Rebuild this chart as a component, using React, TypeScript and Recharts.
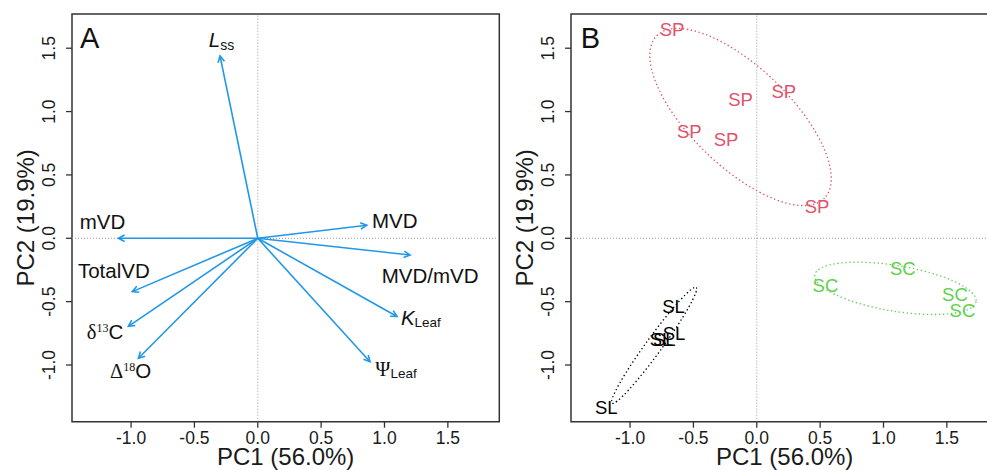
import React from "react";
import {
  ScatterChart,
  Scatter,
  XAxis,
  YAxis,
  ReferenceLine,
  ReferenceArea,
} from "recharts";

const xTicks = [-1, -0.5, 0, 0.5, 1, 1.5];
const yTicks = [-1, -0.5, 0, 0.5, 1, 1.5];
const xDomain = [-1.466, 1.906];
const yDomain = [-1.4475, 1.77];

// panel A: loading arrows (tips) and where their labels sit
const varNames = ["Lss", "mVD", "MVD", "MVD/mVD", "TotalVD", "δ13C", "Δ18O", "KLeaf", "ΨLeaf"];
const tipX = [-0.298, -1.1, 0.86, 1.202, -0.99, -1.021, -0.942, 1.099, 0.886];
const tipY = [1.439, 0.0, 0.103, -0.132, -0.421, -0.695, -0.947, -0.617, -0.974];
const labelX = [-0.286, -1.225, 1.081, 1.36, -1.136, -1.205, -1.004, 1.287, 1.091];
const labelY = [1.565, 0.127, 0.138, -0.296, -0.256, -0.737, -1.042, -0.629, -1.026];

// panel B: site scores
const spX = [-0.668, 0.214, -0.128, -0.532, -0.243, 0.476];
const spY = [1.644, 1.157, 1.092, 0.842, 0.782, 0.247];
const scX = [0.542, 1.152, 1.564, 1.623];
const scY = [-0.371, -0.241, -0.444, -0.568];
const slX = [-0.657, -0.653, -0.756, -0.73, -1.187];
const slY = [-0.54, -0.751, -0.797, -0.8, -1.334];

// group ellipses: centre, semi-axes, rotation (deg)
const ellGroups = ["SP", "SC", "SL"];
const ellCX = [-0.128, 1.094, -0.81];
const ellCY = [0.957, -0.395, -0.845];
const ellA = [0.921, 0.645, 0.565];
const ellB = [0.391, 0.18, 0.063];
const ellAngle = [44, 9.4, -54];

const FONT = '"Liberation Sans", Arial, Helvetica, sans-serif';
const SERIF = '"Liberation Serif", "Times New Roman", serif';
const BLUE = "#2297E6";
const groupColors: Record<string, string> = { SP: "#DF536B", SC: "#61D04F", SL: "#000000" };

const YTick = (props: any) => {
  const { x, y, payload } = props;
  const bx = x - 9;
  return (
    <text
      x={bx}
      y={y}
      transform={`rotate(-90 ${bx} ${y})`}
      textAnchor="middle"
      fontSize={17.5}
      fill="#1a1a1a"
      fontFamily={FONT}
    >
      {Number(payload.value).toFixed(1)}
    </text>
  );
};

const ArrowShape = (props: any) => {
  const { x1, y1, x2, y2 } = props;
  const ang = Math.atan2(y2 - y1, x2 - x1);
  const len = 7;
  const spread = Math.PI / 6.5;
  const ax1 = x2 - len * Math.cos(ang - spread);
  const ay1 = y2 - len * Math.sin(ang - spread);
  const ax2 = x2 - len * Math.cos(ang + spread);
  const ay2 = y2 - len * Math.sin(ang + spread);
  return (
    <g>
      <line x1={x1} y1={y1} x2={x2} y2={y2} stroke={BLUE} strokeWidth={1.6} />
      <polyline
        points={`${ax1},${ay1} ${x2},${y2} ${ax2},${ay2}`}
        fill="none"
        stroke={BLUE}
        strokeWidth={1.6}
      />
    </g>
  );
};

const VarLabel = (props: any) => {
  const { cx, cy, payload } = props;
  const common = {
    x: cx,
    y: cy + 7.3,
    textAnchor: "middle" as const,
    fontSize: 20.5,
    fill: "#111",
    fontFamily: FONT,
  };
  switch (payload.name) {
    case "Lss":
      return (
        <text {...common}>
          <tspan fontStyle="italic">L</tspan>
          <tspan fontSize={14} dy={3}>ss</tspan>
        </text>
      );
    case "KLeaf":
      return (
        <text {...common}>
          <tspan fontStyle="italic">K</tspan>
          <tspan fontSize={13.5} dy={2}>Leaf</tspan>
        </text>
      );
    case "ΨLeaf":
      return (
        <text {...common}>
          <tspan fontFamily={SERIF}>Ψ</tspan>
          <tspan fontSize={13.5} dy={2}>Leaf</tspan>
        </text>
      );
    case "δ13C":
      return (
        <text {...common}>
          <tspan fontFamily={SERIF}>δ</tspan>
          <tspan fontFamily={SERIF} fontSize={12} dy={-7}>13</tspan>
          <tspan dy={7}>C</tspan>
        </text>
      );
    case "Δ18O":
      return (
        <text {...common}>
          <tspan fontFamily={SERIF}>Δ</tspan>
          <tspan fontFamily={SERIF} fontSize={12} dy={-7}>18</tspan>
          <tspan dy={7}>O</tspan>
        </text>
      );
    default:
      return <text {...common}>{payload.name}</text>;
  }
};

const groupLabel = (color: string) => (props: any) => (
  <text
    x={props.cx}
    y={props.cy + 6.5}
    textAnchor="middle"
    fontSize={18.5}
    fill={color}
    fontFamily={FONT}
  >
    {props.payload.g}
  </text>
);

const ellipseShape = (color: string, angle: number) => (props: any) => {
  const { x, y, width, height } = props;
  const cx = x + width / 2;
  const cy = y + height / 2;
  return (
    <ellipse
      cx={cx}
      cy={cy}
      rx={Math.abs(width) / 2}
      ry={Math.abs(height) / 2}
      transform={`rotate(${angle} ${cx} ${cy})`}
      fill="none"
      stroke={color}
      strokeWidth={1.3}
      strokeDasharray="1.4 2.6"
    />
  );
};

const toPoints = (xs: number[], ys: number[], g: string) =>
  xs.map((x, i) => ({ x, y: ys[i], g }));

function Panel({ left, letter, children }: { left: number; letter: string; children: React.ReactNode }) {
  return (
    <div style={{ position: "absolute", left, top: 0, width: 520, height: 470 }}>
      <ScatterChart width={520} height={470} margin={{ top: 14, right: 20.7, left: 0, bottom: 0 }}>
        <XAxis
          type="number"
          dataKey="x"
          domain={xDomain}
          ticks={xTicks}
          allowDataOverflow
          axisLine={false}
          tickSize={6}
          tickMargin={4}
          height={48.3}
          tickLine={{ stroke: "#333", strokeWidth: 1.3 }}
          tick={{ fontSize: 17.5, fill: "#1a1a1a", fontFamily: FONT }}
          tickFormatter={(v) => Number(v).toFixed(1)}
          label={{
            value: "PC1 (56.0%)",
            position: "insideBottom",
            offset: 5,
            fontSize: 24,
            fill: "#1a1a1a",
            fontFamily: FONT,
          }}
        />
        <YAxis
          type="number"
          dataKey="y"
          domain={yDomain}
          ticks={yTicks}
          allowDataOverflow
          axisLine={false}
          width={72}
          tickSize={6}
          tickLine={{ stroke: "#333", strokeWidth: 1.3 }}
          tick={YTick}
          label={{
            value: "PC2 (19.9%)",
            angle: -90,
            position: "insideLeft",
            offset: 25,
            fontSize: 24,
            fill: "#1a1a1a",
            fontFamily: FONT,
            style: { textAnchor: "middle" },
          }}
        />
        <ReferenceLine x={0} stroke="#999" strokeDasharray="1 2" strokeWidth={1} />
        <ReferenceLine y={0} stroke="#999" strokeDasharray="1 2" strokeWidth={1} />
        <ReferenceArea
          x1={xDomain[0]}
          x2={xDomain[1]}
          y1={yDomain[0]}
          y2={yDomain[1]}
          fill="none"
          fillOpacity={0}
          stroke="#333"
          strokeWidth={1.5}
          ifOverflow="visible"
        />
        {children}
      </ScatterChart>
      <div
        style={{
          position: "absolute",
          left: letter === "A" ? 80 : 82,
          top: 24,
          fontSize: 29,
          lineHeight: "29px",
          fontFamily: FONT,
          color: "#111",
        }}
      >
        {letter}
      </div>
    </div>
  );
}

export default function App() {
  const labelData = varNames.map((name, i) => ({ x: labelX[i], y: labelY[i], name }));
  const groupData: Record<string, { x: number; y: number; g: string }[]> = {
    SP: toPoints(spX, spY, "SP"),
    SC: toPoints(scX, scY, "SC"),
    SL: toPoints(slX, slY, "SL"),
  };

  return (
    <div
      style={{
        position: "absolute",
        left: 0,
        top: 0,
        width: 987,
        height: 470,
        overflow: "hidden",
        background: "#fff",
      }}
    >
      <Panel left={0} letter="A">
        {varNames.map((n, i) => (
          <ReferenceLine
            key={n}
            segment={[
              { x: 0, y: 0 },
              { x: tipX[i], y: tipY[i] },
            ]}
            ifOverflow="visible"
            shape={ArrowShape}
          />
        ))}
        <Scatter data={labelData} shape={VarLabel} isAnimationActive={false} />
      </Panel>
      <Panel left={498.7} letter="B">
        {ellGroups.map((g, i) => (
          <ReferenceArea
            key={g}
            x1={ellCX[i] - ellA[i]}
            x2={ellCX[i] + ellA[i]}
            y1={ellCY[i] - ellB[i]}
            y2={ellCY[i] + ellB[i]}
            ifOverflow="visible"
            shape={ellipseShape(groupColors[g], ellAngle[i])}
          />
        ))}
        {ellGroups.map((g) => (
          <Scatter
            key={g}
            data={groupData[g]}
            shape={groupLabel(groupColors[g])}
            isAnimationActive={false}
          />
        ))}
      </Panel>
    </div>
  );
}
